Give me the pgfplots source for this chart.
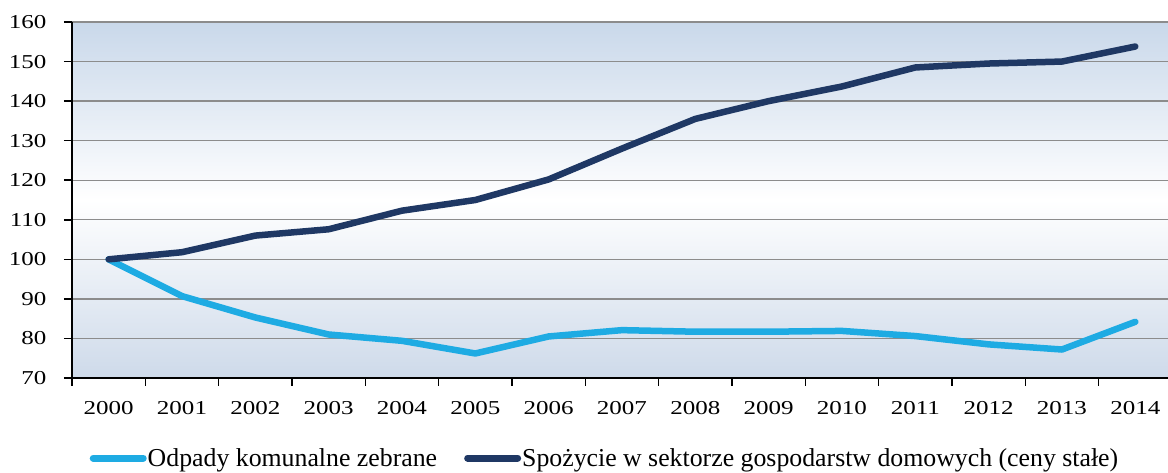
\documentclass[border=0pt]{standalone}
\usepackage{fontspec}
\setmainfont{Liberation Serif}
\newfontfamily\tickfont{Liberation Serif}[FakeStretch=1.27]
\usepackage{pgfplots}
\pgfplotsset{compat=1.18}

\definecolor{odpady}{HTML}{1EABE3}
\definecolor{spozycie}{HTML}{1F3864}
\definecolor{bgtop}{HTML}{C9D8EA}
\definecolor{bgbot}{HTML}{CEDAEA}
\definecolor{gridc}{HTML}{8C8C8C}

\begin{document}
\begin{tikzpicture}
\begin{axis}[
    name=ax,
    scale only axis,
    width=1096pt, height=356pt,
    xmin=-0.5, xmax=14.446,
    ymin=70, ymax=160,
    ytick={70,80,...,160},
    xtick={-0.5,0.5,...,13.5},
    xticklabels={},
    extra x ticks={0,1,...,14},
    extra x tick labels={2000,2001,2002,2003,2004,2005,2006,2007,2008,2009,2010,2011,2012,2013,2014},
    extra x tick style={major tick length=0pt, tick style={draw=none}},
    axis x line*=bottom,
    axis y line*=left,
    axis line style={black, line width=1.6pt},
    tick align=outside,
    major tick length=8pt,
    tick style={black, line width=1.6pt},
    ymajorgrids,
    grid style={gridc, line width=1.4pt},
    axis background/.style={shade, top color=bgtop, bottom color=bgbot, middle color=white},
    /pgf/number format/assume math mode=true,
    ticklabel style={font=\tickfont\fontsize{19.7}{24}\selectfont},
    yticklabel style={xshift=-14pt},
    xticklabel style={yshift=-20pt},
    legend style={at={(0.0160,-0.225)}, anchor=west, draw=none, fill=none,
        inner sep=0pt, font=\fontsize{25.8}{30}\selectfont,
        legend columns=2,
        /tikz/every even column/.append style={column sep=26pt},
        nodes={inner sep=1pt}},
    legend image code/.code={\draw[#1, line width=7pt, line cap=round] (0pt,0pt) -- (50pt,0pt);},
]
\addplot[odpady, line width=6.5pt, line join=round, line cap=round] coordinates {
    (0,100) (1,90.7) (2,85.3) (3,81.0) (4,79.4) (5,76.2) (6,80.5) (7,82.1)
    (8,81.7) (9,81.7) (10,81.9) (11,80.6) (12,78.5) (13,77.2) (14,84.2)
};
\addlegendentry{Odpady komunalne zebrane}
\addplot[spozycie, line width=6.5pt, line join=round, line cap=round] coordinates {
    (0,100) (1,101.8) (2,106.0) (3,107.6) (4,112.3) (5,115.0) (6,120.2) (7,128.0)
    (8,135.5) (9,140.0) (10,143.7) (11,148.5) (12,149.5) (13,150.0) (14,153.8)
};
\addlegendentry{Spożycie w sektorze gospodarstw domowych (ceny stałe)}
\end{axis}
\pgfresetboundingbox
\path (ax.south west) ++(-72pt,-95pt) rectangle ++(1168pt,473pt);
\end{tikzpicture}
\end{document}
